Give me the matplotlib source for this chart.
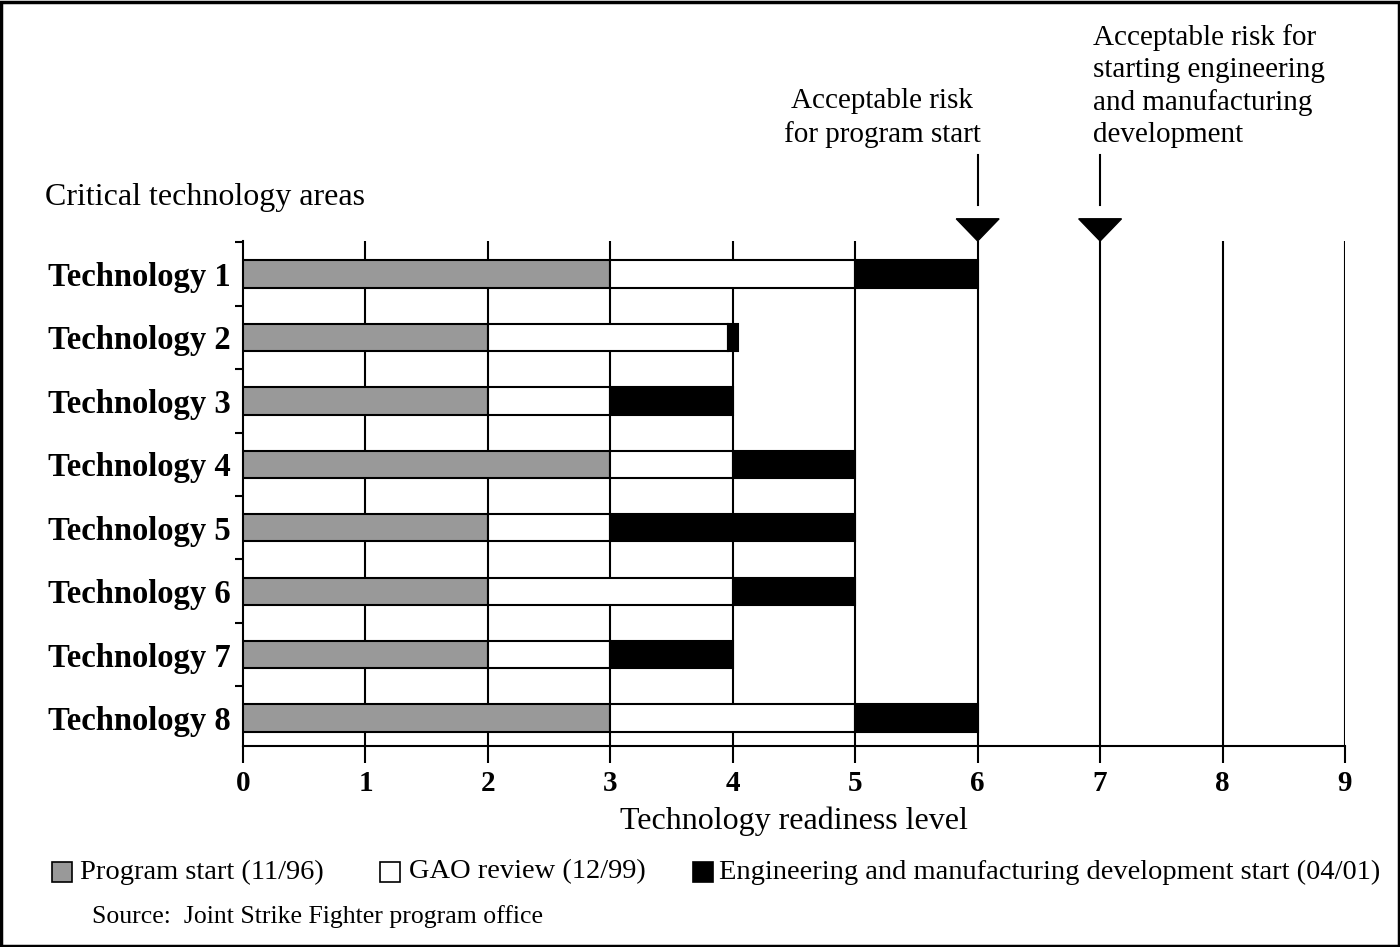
import matplotlib
matplotlib.use("Agg")
from matplotlib import pyplot as plt
from matplotlib.patches import Rectangle, Polygon
from matplotlib.transforms import blended_transform_factory
import numpy as np

plt.rcParams['font.family'] = ['Liberation Serif', 'DejaVu Serif']

# technology readiness levels at each milestone
techs = ['Technology 1', 'Technology 2', 'Technology 3', 'Technology 4',
         'Technology 5', 'Technology 6', 'Technology 7', 'Technology 8']
program_start = [3, 2, 2, 3, 2, 2, 2, 3]
gao_review = [5, 3.96, 3, 4, 3, 4, 3, 5]
emd_start = [6, 4.04, 4, 5, 5, 5, 4, 6]

risk_levels = [6, 7]
legend_labels = ['Program start (11/96)', 'GAO review (12/99)',
                 'Engineering and manufacturing development start (04/01)']
colors = ['#999999', 'white', 'black']

###############################################################################

fig = plt.figure(figsize=(14, 9.47), dpi=100)
ax = fig.add_axes([243/1400, 1-746/947, 1102/1400, 505/947])

y = np.arange(len(techs))
ps = np.array(program_start)
gr = np.array(gao_review)
em = np.array(emd_start)

# gridlines behind bars
for xv in range(1, 10):
    ax.axvline(xv, color='black', lw=1.5, zorder=1)

kw = dict(height=0.43, edgecolor='black', linewidth=1.5, zorder=3)
ax.barh(y, ps, color=colors[0], **kw)
ax.barh(y, gr - ps, left=ps, color=colors[1], **kw)
ax.barh(y, em - gr, left=gr, color=colors[2], **kw)

ax.set_xlim(0, 9)
ax.set_ylim(len(techs) - 0.56, -0.52)

ax.set_xticks(range(10))
ax.set_xticklabels([str(i) for i in range(10)], fontsize=21, fontweight='bold')
ax.tick_params(axis='x', length=12, width=1.5, pad=5)

ax.set_yticks(y)
ax.set_yticklabels(techs, fontsize=23.5, fontweight='bold')
ax.set_yticks(np.arange(-0.5, len(techs) - 0.5), minor=True)
ax.tick_params(axis='y', which='major', length=0, pad=9)
ax.tick_params(axis='y', which='minor', length=6, width=1.5)

for s in ['top', 'right']:
    ax.spines[s].set_visible(False)
for s in ['left', 'bottom']:
    ax.spines[s].set_linewidth(1.5)

ax.set_xlabel('Technology readiness level', fontsize=23, labelpad=7)

# acceptable risk markers
trans = blended_transform_factory(ax.transData, ax.transAxes)
for r in risk_levels:
    tri = Polygon([[r - 0.175, 1.044], [r + 0.175, 1.044], [r, 1.0]],
                  closed=True, color='black', transform=trans, clip_on=False)
    ax.add_patch(tri)
    ax.plot([r, r], [1.071, 1.170], color='black', lw=1.5,
            transform=trans, clip_on=False)

fig.text(882/1400, 1-118/947, 'Acceptable risk\nfor program start',
         ha='center', va='center', fontsize=21, linespacing=1.3)
fig.text(1093/1400, 1-86/947,
         'Acceptable risk for\nstarting engineering\nand manufacturing\ndevelopment',
         ha='left', va='center', fontsize=21, linespacing=1.3)
fig.text(45/1400, 1-197/947, 'Critical technology areas',
         ha='left', va='center', fontsize=23)

# legend
box_x = [52, 380, 693]
txt_x = [80, 409, 719]
for bx, tx, c, lab in zip(box_x, txt_x, colors, legend_labels):
    fig.patches.append(Rectangle((bx/1400, 1-882/947), 20/1400, 20/947,
                                 facecolor=c, edgecolor='black', lw=1.2,
                                 transform=fig.transFigure))
    fig.text(tx/1400, 1-872/947, lab, ha='left', va='center', fontsize=20.5)

fig.text(92/1400, 1-917/947, 'Source:  Joint Strike Fighter program office',
         ha='left', va='center', fontsize=18.5)

# outer frame
fig.patches.append(Rectangle((0.001, 0.001), 0.998, 0.997, fill=False,
                             edgecolor='black', lw=2.5,
                             transform=fig.transFigure))

fig.savefig('out.png', dpi=100)
